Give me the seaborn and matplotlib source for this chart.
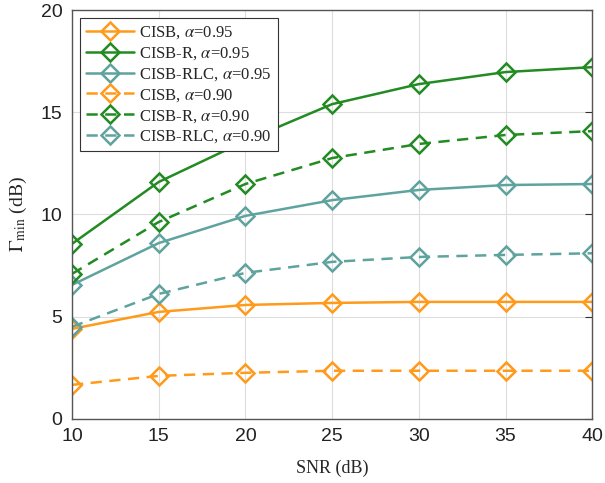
import numpy as np
import pandas as pd
import matplotlib
matplotlib.use("Agg")
import matplotlib.pyplot as plt
import seaborn as sns

# data
snr = [10, 15, 20, 25, 30, 35, 40]
cisb_95 = [4.40, 5.23, 5.57, 5.67, 5.72, 5.72, 5.72]
cisb_r_95 = [8.56, 11.59, 13.6, 15.40, 16.38, 16.97, 17.21]
cisb_rlc_95 = [6.55, 8.60, 9.93, 10.70, 11.20, 11.44, 11.49]
cisb_90 = [1.66, 2.10, 2.25, 2.35, 2.35, 2.35, 2.35]
cisb_r_90 = [7.09, 9.63, 11.49, 12.76, 13.45, 13.89, 14.08]
cisb_rlc_90 = [4.50, 6.11, 7.14, 7.68, 7.92, 8.02, 8.10]

series = [
    ("CISB, $\\alpha$=0.95", cisb_95, "#FF9A1A", "-"),
    ("CISB-R, $\\alpha$=0.95", cisb_r_95, "#228B22", "-"),
    ("CISB-RLC, $\\alpha$=0.95", cisb_rlc_95, "#5FA39E", "-"),
    ("CISB, $\\alpha$=0.90", cisb_90, "#FF9A1A", "--"),
    ("CISB-R, $\\alpha$=0.90", cisb_r_90, "#228B22", "--"),
    ("CISB-RLC, $\\alpha$=0.90", cisb_rlc_90, "#5FA39E", "--"),
]

sns.set_style("white")
plt.rcParams["mathtext.fontset"] = "stix"
plt.rcParams["font.family"] = ["Liberation Serif", "DejaVu Serif"]

fig, ax = plt.subplots(figsize=(6.05, 4.83), dpi=100)
fig.subplots_adjust(left=0.119, right=0.979, top=0.979, bottom=0.133)

for label, vals, color, ls in series:
    df = pd.DataFrame({"snr": snr, "val": vals})
    line = sns.lineplot(data=df, x="snr", y="val", ax=ax, color=color,
                        linewidth=1.8, marker="D", markersize=9,
                        markerfacecolor="none", markeredgecolor=color,
                        markeredgewidth=1.8, label=label).lines[-1]
    if ls == "--":
        line.set_dashes((4.5, 3))

ax.set_xlim(10, 40)
ax.set_ylim(0, 20)
ax.set_xticks(np.arange(10, 41, 5))
ax.set_yticks(np.arange(0, 21, 5))
ax.grid(True, color="#dddddd", linewidth=0.8)
for lab in ax.get_xticklabels() + ax.get_yticklabels():
    lab.set_fontfamily("Liberation Sans")
    lab.set_fontsize(14)
ax.tick_params(direction="in", length=5, color="#333333", top=False, right=True,
               colors="#222222", pad=7)
for sp in ax.spines.values():
    sp.set_color("#555555")
    sp.set_linewidth(1.0)

ax.set_xlabel("SNR (dB)", fontsize=13, labelpad=10)
ax.set_ylabel("$\\Gamma_{\\mathrm{min}}$ (dB)", fontsize=14, labelpad=8)

leg = ax.legend(loc="upper left", fontsize=12, frameon=True, fancybox=False,
                edgecolor="#333333", framealpha=1, handlelength=2.9,
                borderpad=0.35, labelspacing=0.25, handletextpad=0.3,
                borderaxespad=0.5)
leg.get_frame().set_linewidth(0.8)

fig.savefig("out.png", dpi=100)
